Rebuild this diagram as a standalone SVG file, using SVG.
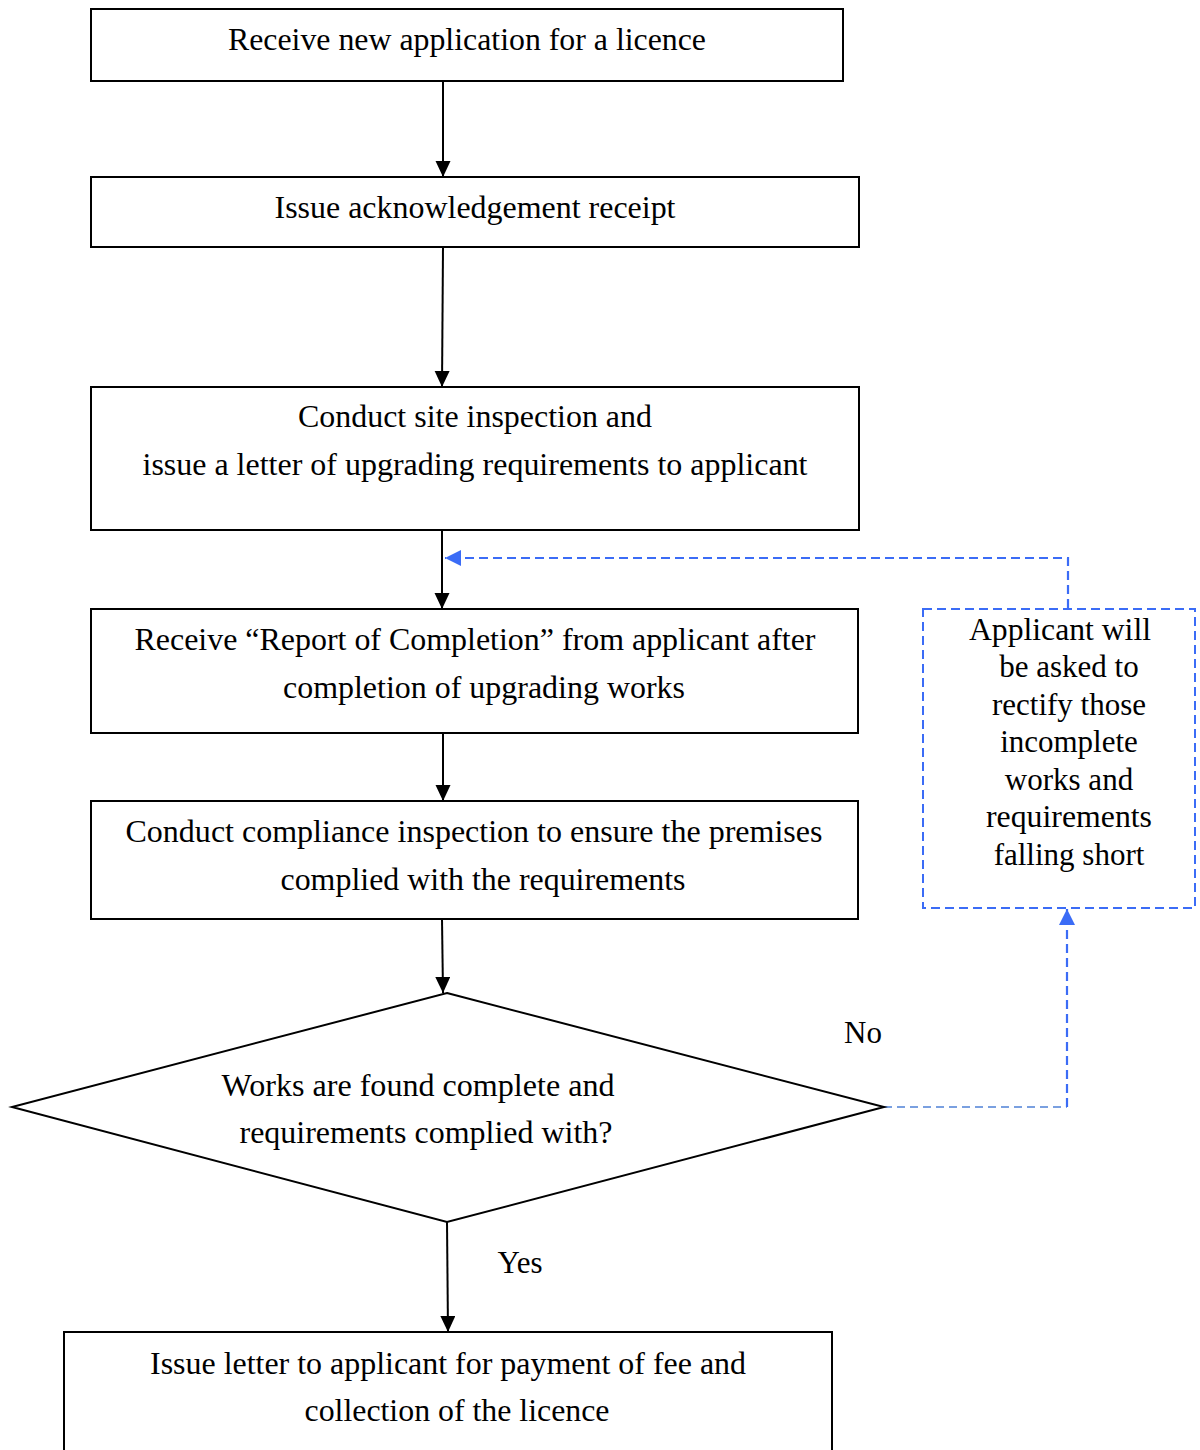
<svg xmlns="http://www.w3.org/2000/svg" width="1200" height="1450" viewBox="0 0 1200 1450">
<style>
.box{fill:#fff;stroke:#000;stroke-width:2}
.t{font-family:"Liberation Serif","Times New Roman",serif;font-size:31px;fill:#000;text-anchor:middle}
.c{fill:none;stroke:#000;stroke-width:2}
.d{fill:none;stroke:#3b6cf6;stroke-width:2.2;stroke-dasharray:9 5}
.d2{fill:none;stroke:#4f81d6;stroke-width:1.6;stroke-dasharray:8 5}
.db{fill:#fff;stroke:#3b6cf6;stroke-width:2;stroke-dasharray:9 5}
</style>
<defs>
<marker id="ah" markerUnits="userSpaceOnUse" markerWidth="16" markerHeight="16" refX="16" refY="7.5" orient="auto">
<path d="M0,0 L16,7.5 L0,15 z" fill="#000"/>
</marker>
<marker id="ab" markerUnits="userSpaceOnUse" markerWidth="18" markerHeight="18" refX="16" refY="8" orient="auto">
<path d="M0,0 L16,8 L0,16 z" fill="#3b6cf6"/>
</marker>
</defs>
<rect width="1200" height="1450" fill="#fff"/>
<g id="connectors">
<line class="c" x1="443" y1="81" x2="443" y2="177" marker-end="url(#ah)"/>
<line class="c" x1="443" y1="247" x2="442" y2="387" marker-end="url(#ah)"/>
<line class="c" x1="442" y1="530" x2="442" y2="609" marker-end="url(#ah)"/>
<line class="c" x1="443" y1="733" x2="443" y2="801" marker-end="url(#ah)"/>
<line class="c" x1="442" y1="919" x2="443" y2="993" marker-end="url(#ah)"/>
<line class="c" x1="447" y1="1222" x2="448" y2="1332" marker-end="url(#ah)"/>
<polyline class="d" points="1068,608 1068,558 445,558" marker-end="url(#ab)"/>
<polyline class="d2" points="884,1107 1067,1107"/>
<polyline class="d" points="1067,1107 1067,909" marker-end="url(#ab)"/>
<text class="t" x="863" y="1043">No</text>
<text class="t" x="520" y="1273">Yes</text>
</g>
<g id="n1">
<rect class="box" x="91" y="9" width="752" height="72"/>
<text class="t" x="467" y="50" textLength="478" lengthAdjust="spacingAndGlyphs">Receive new application for a licence</text>
</g>
<g id="n2">
<rect class="box" x="91" y="177" width="768" height="70"/>
<text class="t" x="475" y="218" textLength="401" lengthAdjust="spacingAndGlyphs">Issue acknowledgement receipt</text>
</g>
<g id="n3">
<rect class="box" x="91" y="387" width="768" height="143"/>
<text class="t" x="475" y="427" textLength="354" lengthAdjust="spacingAndGlyphs">Conduct site inspection and</text>
<text class="t" x="475" y="475" textLength="665" lengthAdjust="spacingAndGlyphs">issue a letter of upgrading requirements to applicant</text>
</g>
<g id="n4">
<rect class="box" x="91" y="609" width="767" height="124"/>
<text class="t" x="475" y="650" textLength="681" lengthAdjust="spacingAndGlyphs">Receive “Report of Completion” from applicant after</text>
<text class="t" x="484" y="698" textLength="402" lengthAdjust="spacingAndGlyphs">completion of upgrading works</text>
</g>
<g id="n5">
<rect class="box" x="91" y="801" width="767" height="118"/>
<text class="t" x="474" y="842" textLength="697" lengthAdjust="spacingAndGlyphs">Conduct compliance inspection to ensure the premises</text>
<text class="t" x="483" y="890" textLength="405" lengthAdjust="spacingAndGlyphs">complied with the requirements</text>
</g>
<g id="n6">
<polygon class="box" points="447,993 884,1107 447,1222 12,1107"/>
<text class="t" x="418" y="1096" textLength="393" lengthAdjust="spacingAndGlyphs">Works are found complete and</text>
<text class="t" x="426" y="1143" textLength="373" lengthAdjust="spacingAndGlyphs">requirements complied with?</text>
</g>
<g id="n7">
<rect class="db" x="923" y="609" width="272" height="299"/>
<text class="t" x="1060" y="640" textLength="182" lengthAdjust="spacingAndGlyphs">Applicant will</text>
<text class="t" x="1069" y="677">be asked to</text>
<text class="t" x="1069" y="715">rectify those</text>
<text class="t" x="1069" y="752">incomplete</text>
<text class="t" x="1069" y="790">works and</text>
<text class="t" x="1069" y="827" textLength="166" lengthAdjust="spacingAndGlyphs">requirements</text>
<text class="t" x="1069" y="865">falling short</text>
</g>
<g id="n8">
<rect class="box" x="64" y="1332" width="768" height="130"/>
<text class="t" x="448" y="1374" textLength="596" lengthAdjust="spacingAndGlyphs">Issue letter to applicant for payment of fee and</text>
<text class="t" x="457" y="1421" textLength="305" lengthAdjust="spacingAndGlyphs">collection of the licence</text>
</g>
</svg>
